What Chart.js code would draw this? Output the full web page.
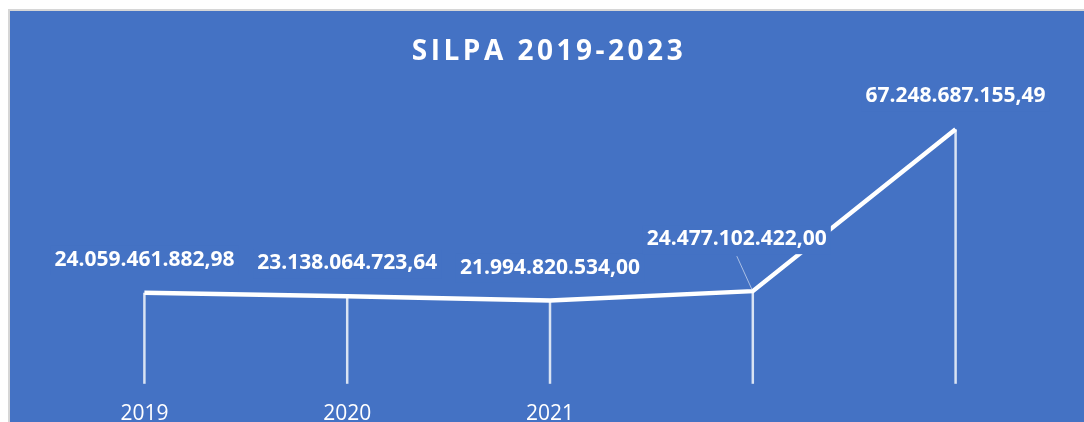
<!DOCTYPE html>
<html>
<head>
<meta charset="utf-8">
<script src="https://cdn.jsdelivr.net/npm/chart.js@4"></script>
<style>
  html, body { margin: 0; padding: 0; background: #ffffff; overflow: hidden; }
  #box {
    position: absolute; left: 8px; top: 9px; width: 1076px; height: 426px;
    border-left: 2px solid #d6d6d6; border-top: 2px solid #d6d6d6;
    background: #4472c4;
  }
  #grafico { display: block; }
</style>
</head>
<body>
<div id="box"><canvas id="grafico" width="1076" height="426"></canvas></div>
<script>
// dati
const anni = ['2019', '2020', '2021', '2022', '2023'];
const silpa = [24059461882.98, 23138064723.64, 21994820534.00, 24477102422.00, 67248687155.49];
const etichette = ['24.059.461.882,98', '23.138.064.723,64', '21.994.820.534,00', '24.477.102.422,00', '67.248.687.155,49'];
const titolo = 'SILPA 2019-2023';

// linee verticali dal punto fino all'asse (come in Excel)
const dropLines = {
  id: 'dropLines',
  beforeDatasetsDraw(chart) {
    const ctx = chart.ctx;
    const y0 = chart.scales.y.getPixelForValue(0);
    ctx.save();
    ctx.strokeStyle = 'rgba(255,255,255,0.8)';
    ctx.lineWidth = 2.5;
    chart.getDatasetMeta(0).data.forEach(p => {
      ctx.beginPath();
      ctx.moveTo(p.x, p.y);
      ctx.lineTo(p.x, y0);
      ctx.stroke();
    });
    ctx.restore();
  }
};

// etichette dei valori + titolo con spaziatura
const etichettePlugin = {
  id: 'etichette',
  afterDatasetsDraw(chart) {
    const ctx = chart.ctx;
    ctx.save();
    ctx.textAlign = 'center';
    ctx.textBaseline = 'middle';
    ctx.font = 'bold 21px "Open Sans"';
    chart.getDatasetMeta(0).data.forEach((p, i) => {
      let dx = 0, dy = -33;
      if (i == 3) { dx = -16; dy = -52; }
      const w = ctx.measureText(etichette[i]).width;
      // sfondo dell'etichetta (copre la linea come in Excel)
      ctx.fillStyle = '#4472c4';
      ctx.fillRect(p.x + dx - w / 2 - 4, p.y + dy - 14, w + 8, 29);
      ctx.fillStyle = '#ffffff';
      ctx.fillText(etichette[i], p.x + dx, p.y + dy);
      if (i == 3) {
        // linea guida
        ctx.strokeStyle = 'rgba(255,255,255,0.55)';
        ctx.lineWidth = 1;
        ctx.beginPath();
        ctx.moveTo(p.x - 16, p.y - 35);
        ctx.lineTo(p.x - 1, p.y - 2);
        ctx.stroke();
      }
    });
    ctx.fillStyle = '#ffffff';
    ctx.font = 'bold 28px "Open Sans"';
    ctx.letterSpacing = '3.5px';
    ctx.fillText(titolo, chart.width / 2 + 1, 41);
    ctx.restore();
  }
};

new Chart(document.getElementById('grafico'), {
  type: 'line',
  data: {
    labels: anni,
    datasets: [{
      data: silpa,
      borderColor: '#ffffff',
      borderWidth: 4.5,
      pointRadius: 0,
      tension: 0,
      fill: false
    }]
  },
  options: {
    responsive: false,
    animation: false,
    layout: { padding: { left: 33, right: 29, top: 70, bottom: 0 } },
    plugins: {
      legend: { display: false },
      tooltip: { enabled: false },
      title: { display: false }
    },
    scales: {
      x: {
        offset: true,
        grid: { display: false },
        border: { display: false },
        ticks: {
          color: '#ffffff',
          padding: 10,
          font: { family: 'Open Sans', size: 21 },
          // in originale si vedono solo le prime tre etichette
          callback: function(v, i) { return i < 3 ? anni[i] : ''; }
        }
      },
      y: {
        display: false,
        min: 0,
        max: 80000000000
      }
    }
  },
  plugins: [dropLines, etichettePlugin]
});
</script>
</body>
</html>
